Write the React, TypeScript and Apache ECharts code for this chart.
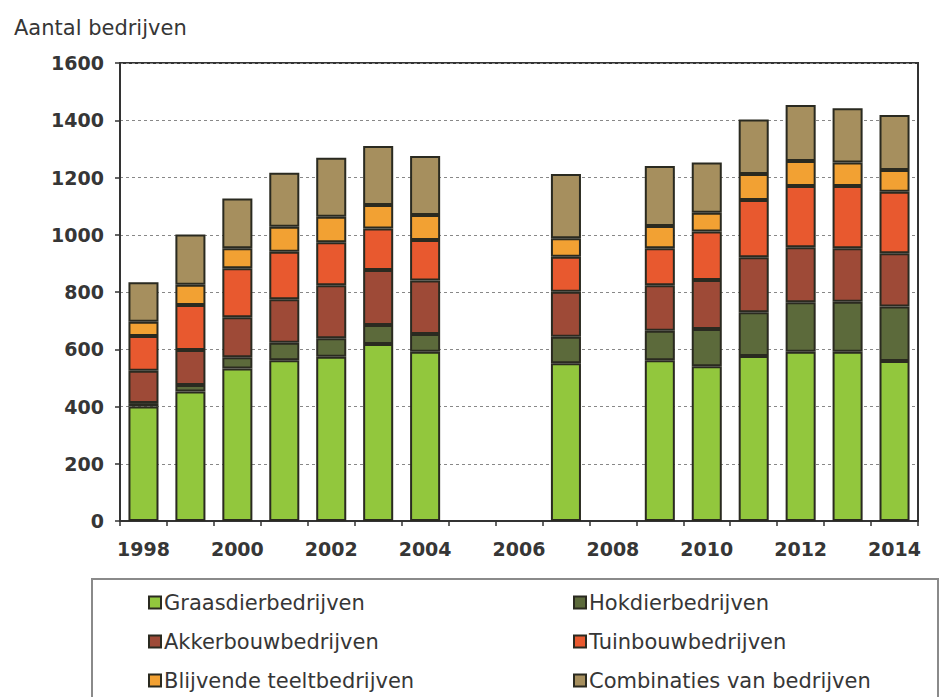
import React, { useEffect, useRef } from "react";
import * as echarts from "echarts";

const years = ["1998","1999","2000","2001","2002","2003","2004","2005","2006","2007","2008","2009","2010","2011","2012","2013","2014"];
const graasdier = [400, 452, 533, 562, 574, 618, 591, "-", "-", 551, "-", 562, 541, 576, 591, 591, 559];
const hokdier = [12, 23, 39, 61, 64, 67, 62, "-", "-", 93, "-", 103, 130, 153, 173, 175, 190];
const akkerbouw = [113, 122, 140, 152, 186, 192, 187, "-", "-", 157, "-", 159, 171, 192, 192, 187, 186];
const tuinbouw = [121, 158, 171, 166, 150, 145, 142, "-", "-", 122, "-", 129, 169, 200, 214, 217, 215];
const blijvende = [50, 70, 70, 87, 89, 82, 87, "-", "-", 65, "-", 78, 66, 91, 88, 82, 76];
const combinaties = [138, 176, 174, 189, 206, 206, 206, "-", "-", 224, "-", 209, 175, 191, 195, 190, 192];

const seriesNames = [
  "Graasdierbedrijven",
  "Hokdierbedrijven",
  "Akkerbouwbedrijven",
  "Tuinbouwbedrijven",
  "Blijvende teeltbedrijven",
  "Combinaties van bedrijven",
];
const seriesData = [graasdier, hokdier, akkerbouw, tuinbouw, blijvende, combinaties];
const colors = ["#92c73d", "#5c6a3b", "#9e4a37", "#e8592f", "#f2a133", "#a68f5e"];

const FONT = "DejaVu Sans";
const TEXT = "#363636";

export default function App() {
  const ref = useRef<HTMLDivElement>(null);
  useEffect(() => {
    if (!ref.current) return;
    const chart = echarts.init(ref.current, undefined, { renderer: "svg" });
    const series = seriesNames.map((name, i) => ({
      name,
      type: "bar",
      stack: "total",
      data: seriesData[i],
      barCategoryGap: "36%",
      itemStyle: { color: colors[i], borderColor: "#2a2a20", borderWidth: 2 },
    }));
    const legendBase = {
      orient: "vertical",
      top: 592,
      height: 200,
      padding: 0,
      icon: "rect",
      itemWidth: 12,
      itemHeight: 12,
      itemGap: 18,
      textStyle: { fontFamily: FONT, fontSize: 21, color: TEXT, padding: [0, 0, 0, -2] },
    };
    chart.setOption({
      animation: false,
      title: {
        text: "Aantal bedrijven",
        left: 9,
        top: 12,
        textStyle: { fontFamily: FONT, fontSize: 21, fontWeight: "normal", color: TEXT },
      },
      grid: {
        left: 120,
        right: 23,
        top: 63,
        bottom: 176,
        show: true,
        borderColor: "#333",
        borderWidth: 2,
      },
      legend: [
        { ...legendBase, data: [seriesNames[0], seriesNames[2], seriesNames[4]], left: 148 },
        { ...legendBase, data: [seriesNames[1], seriesNames[3], seriesNames[5]], left: 573 },
      ],
      graphic: [
        {
          type: "rect",
          shape: { x: 92, y: 579, width: 846, height: 130 },
          style: { fill: "none", stroke: "#8a8a8a", lineWidth: 2 },
          silent: true,
        },
      ],
      xAxis: {
        type: "category",
        data: years,
        axisLine: { lineStyle: { color: "#333", width: 2 } },
        axisTick: { show: true, interval: 0, length: 5, lineStyle: { color: "#333", width: 1.5 } },
        axisLabel: {
          interval: 1,
          margin: 18,
          fontFamily: FONT,
          fontSize: 19,
          fontWeight: "bold",
          color: TEXT,
        },
      },
      yAxis: {
        type: "value",
        min: 0,
        max: 1600,
        interval: 200,
        axisLine: { show: true, lineStyle: { color: "#333", width: 2 } },
        axisTick: { show: true, length: 5, lineStyle: { color: "#333", width: 1.5 } },
        splitLine: { lineStyle: { color: "#888", type: [3, 3], width: 1.2 } },
        axisLabel: {
          margin: 16,
          fontFamily: FONT,
          fontSize: 19,
          fontWeight: "bold",
          color: TEXT,
          formatter: (v: number) => String(v),
        },
      },
      series,
    });
    return () => chart.dispose();
  }, []);
  return (
    <div
      ref={ref}
      style={{ position: "fixed", left: 0, top: 0, width: 941, height: 697, background: "#fff" }}
    />
  );
}
